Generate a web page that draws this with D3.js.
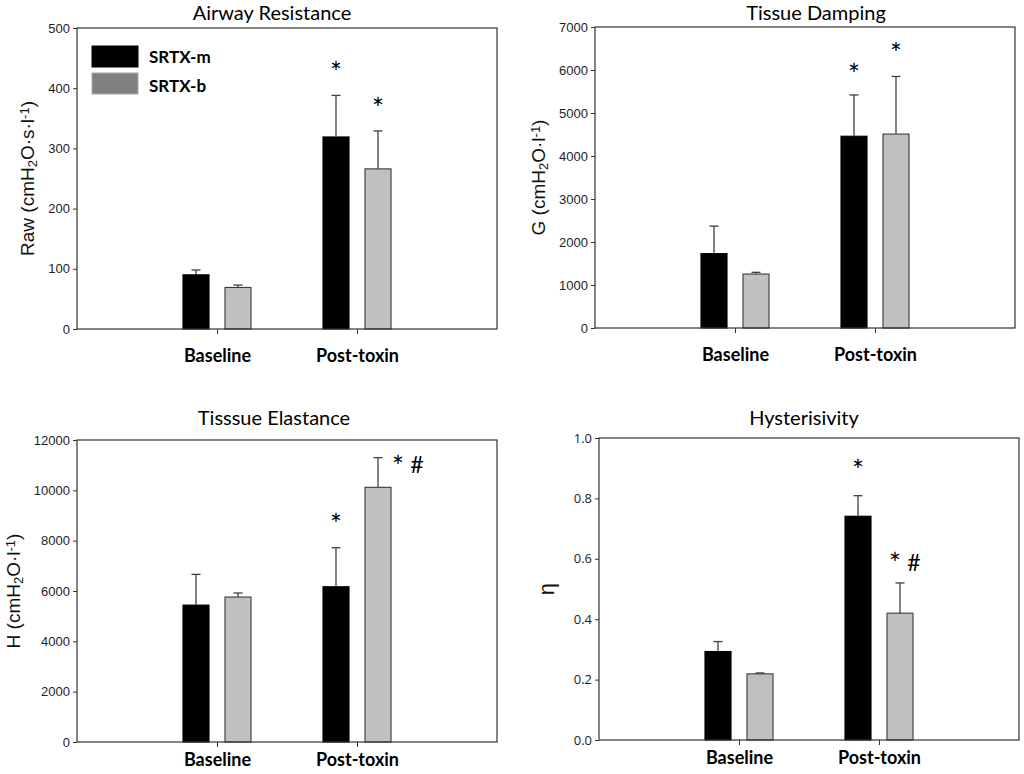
<!DOCTYPE html>
<html>
<head>
<meta charset="utf-8">
<script src="https://cdn.jsdelivr.net/npm/d3@7"></script>
<style>
  body { margin: 0; background: #fff; }
  svg { display: block; }
</style>
</head>
<body>
<div id="chart"></div>
<script>
// lung mechanics figure, four bar panels

var categories = ["Baseline", "Post-toxin"];
var seriesNames = ["SRTX-m", "SRTX-b"];

// Airway resistance
var rawM = [90, 319];
var rawMSd = [8, 69];
var rawB = [69, 266];
var rawBSd = [4, 63];
var rawTicks = [0, 100, 200, 300, 400, 500];

// Tissue damping
var gM = [1730, 4460];
var gMSd = [640, 960];
var gB = [1255, 4510];
var gBSd = [40, 1340];
var gTicks = [0, 1000, 2000, 3000, 4000, 5000, 6000, 7000];

// Tissue elastance
var hM = [5440, 6170];
var hMSd = [1220, 1550];
var hB = [5760, 10120];
var hBSd = [160, 1180];
var hTicks = [0, 2000, 4000, 6000, 8000, 10000, 12000];

// Hysteresivity
var etaM = [0.293, 0.741];
var etaMSd = [0.033, 0.068];
var etaB = [0.219, 0.42];
var etaBSd = [0.003, 0.10];
var etaTicks = [0, 0.2, 0.4, 0.6, 0.8, 1.0];

// significance marks: [category, series, text, height in data units]
var rawMarks = [[1, 0, "*", 435], [1, 1, "*", 375]];
var gMarks = [[1, 0, "*", 6000], [1, 1, "*", 6500]];
var hMarks = [[1, 0, "*", 8820], [1, 1, "*#", 11150]];
var etaMarks = [[1, 0, "*", 0.907], [1, 1, "*#", 0.60]];

var svgWidth = 1024;
var svgHeight = 774;

var svg = d3.select("#chart")
  .append("svg")
  .attr("width", svgWidth)
  .attr("height", svgHeight);

var colors = ["#000000", "#c0c0c0"];

var panels = [
  {title: "Airway Resistance", label: ["Raw (cmH", "2", "O·s·l", "-1", ")"],
   m: rawM, mSd: rawMSd, b: rawB, bSd: rawBSd, ticks: rawTicks, marks: rawMarks,
   box: {left: 77, right: 497, top: 28, bottom: 329}, titleX: 272, titleY: 20, labelX: 34,
   fmt: d3.format("d"), tickFont: "Liberation Sans", tickSize: 13, markDx: 0, catPad: 15, legend: true},
  {title: "Tissue Damping", label: ["G (cmH", "2", "O·l", "-1", ")"],
   m: gM, mSd: gMSd, b: gB, bSd: gBSd, ticks: gTicks, marks: gMarks,
   box: {left: 595, right: 1015, top: 27, bottom: 328}, titleX: 816, titleY: 20, labelX: 545,
   fmt: d3.format("d"), tickFont: "Liberation Sans", tickSize: 13, markDx: 0, catPad: 15},
  {title: "Tisssue Elastance", label: ["H (cmH", "2", "O·l", "-1", ")"],
   m: hM, mSd: hMSd, b: hB, bSd: hBSd, ticks: hTicks, marks: hMarks,
   box: {left: 77, right: 497, top: 440, bottom: 742}, titleX: 274, titleY: 425, labelX: 20,
   fmt: d3.format("d"), tickFont: "Liberation Sans", tickSize: 13, markDx: 20, catPad: 6},
  {title: "Hysterisivity", label: ["η"],
   m: etaM, mSd: etaMSd, b: etaB, bSd: etaBSd, ticks: etaTicks, marks: etaMarks,
   box: {left: 599, right: 1019, top: 438, bottom: 740}, titleX: 804, titleY: 425, labelX: 554,
   fmt: d3.format(".1f"), tickFont: "Open Sans", tickSize: 13, markDx: -5, catPad: 6}
];

panels.forEach(function(p) {
  var g = svg.append("g");
  var box = p.box;

  var x = d3.scaleLinear().domain([0, 3]).range([box.left, box.right]);
  var y = d3.scaleLinear().domain([p.ticks[0], p.ticks[p.ticks.length - 1]]).range([box.bottom, box.top]);

  // bar offset and width in category units
  var offset = 0.15;
  var barW = 0.186;

  var rows = [];
  categories.forEach(function(c, i) {
    rows.push({cat: i, s: 0, v: p.m[i], sd: p.mSd[i]});
    rows.push({cat: i, s: 1, v: p.b[i], sd: p.bSd[i]});
  });
  var cx = function(d) { return x(d.cat + 1 + (d.s === 0 ? -offset : offset)); };

  // bars
  g.selectAll("rect.bar")
    .data(rows)
    .enter()
    .append("rect")
    .attr("class", "bar")
    .attr("x", d => cx(d) - (x(barW) - x(0)) / 2)
    .attr("width", x(barW) - x(0))
    .attr("y", d => y(d.v))
    .attr("height", d => y(0) - y(d.v))
    .attr("fill", d => colors[d.s])
    .attr("stroke", d => d.s === 0 ? "#000" : "#3a3a3a")
    .attr("stroke-width", 1.1);

  // error bars (upper only)
  g.selectAll("line.err")
    .data(rows)
    .enter()
    .append("line")
    .attr("x1", cx)
    .attr("x2", cx)
    .attr("y1", d => y(d.v))
    .attr("y2", d => y(d.v + d.sd))
    .attr("stroke", "#404040")
    .attr("stroke-width", 1.3);

  g.selectAll("line.cap")
    .data(rows)
    .enter()
    .append("line")
    .attr("x1", d => cx(d) - 4.5)
    .attr("x2", d => cx(d) + 4.5)
    .attr("y1", d => y(d.v + d.sd))
    .attr("y2", d => y(d.v + d.sd))
    .attr("stroke", "#404040")
    .attr("stroke-width", 1.3);

  // frame
  g.append("rect")
    .attr("x", box.left)
    .attr("y", box.top)
    .attr("width", box.right - box.left)
    .attr("height", box.bottom - box.top)
    .attr("fill", "none")
    .attr("stroke", "#333")
    .attr("stroke-width", 1.2);

  // y axis
  var leftAxis = d3.axisLeft(y).tickValues(p.ticks).tickFormat(p.fmt).tickSize(4).tickPadding(3);
  var yAxis = g.append("g")
    .attr("transform", `translate(${box.left}, 0)`)
    .call(leftAxis);
  yAxis.select(".domain").remove();
  yAxis.selectAll("line").attr("stroke", "#333");
  yAxis.selectAll("text")
    .attr("fill", "#1c1c2a")
    .style("font-family", p.tickFont)
    .style("font-size", p.tickSize + "px");

  // x axis
  var bottomAxis = d3.axisBottom(x).tickValues([1, 2]).tickFormat(d => categories[d - 1]).tickSize(5).tickPadding(p.catPad);
  var xAxis = g.append("g")
    .attr("transform", `translate(0, ${box.bottom})`)
    .call(bottomAxis);
  xAxis.select(".domain").remove();
  xAxis.selectAll("line").attr("stroke", "#333");
  xAxis.selectAll("text")
    .attr("fill", "#000")
    .style("font-family", "Lato")
    .style("font-weight", "bold")
    .style("font-size", "18px");

  // title
  g.append("text")
    .attr("x", p.titleX)
    .attr("y", p.titleY)
    .attr("text-anchor", "middle")
    .style("font-family", "Lato")
    .style("font-size", "20px")
    .text(p.title);

  // y label
  var yl = g.append("text")
    .attr("transform", `translate(${p.labelX}, ${(box.top + box.bottom) / 2}) rotate(-90)`)
    .attr("text-anchor", "middle")
    .style("font-family", "Liberation Sans")
    .style("font-size", p.label.length > 1 ? "19px" : "22px")
    .attr("fill", "#111");
  p.label.forEach(function(part, i) {
    var t = yl.append("tspan").text(part);
    if (p.label.length > 1 && i === 1) t.attr("baseline-shift", "-25%").style("font-size", "13px");
    if (p.label.length > 1 && i === 3) t.attr("baseline-shift", "40%").style("font-size", "13px");
  });

  // significance marks
  p.marks.forEach(function(mk) {
    var d = {cat: mk[0], s: mk[1]};
    var mx = cx(d) + (mk[1] === 1 ? p.markDx : 0);
    g.append("text")
      .attr("x", mx)
      .attr("y", y(mk[3]))
      .attr("dy", "0.55em")
      .attr("text-anchor", "middle")
      .style("font-family", "Lato")
      .style("font-size", "28px")
      .text("*");
    if (mk[2].indexOf("#") >= 0) {
      g.append("text")
        .attr("x", mx + 19)
        .attr("y", y(mk[3]) + 12)
        .attr("text-anchor", "middle")
        .style("font-family", "Lato")
        .style("font-size", "23px")
        .text("#");
    }
  });

  // legend
  if (p.legend) {
    var lg = g.append("g");
    seriesNames.forEach(function(name, i) {
      lg.append("rect")
        .attr("x", 92)
        .attr("y", 46 + i * 27)
        .attr("width", 46)
        .attr("height", 21)
        .attr("fill", i === 0 ? "#000" : "#808080")
        .attr("stroke", i === 0 ? "#000" : "#aaa");
      lg.append("text")
        .attr("x", 149)
        .attr("y", 63 + i * 29)
        .style("font-family", "Lato")
        .style("font-weight", "bold")
        .style("font-size", "17px")
        .text(name);
    });
  }
});
</script>
</body>
</html>
